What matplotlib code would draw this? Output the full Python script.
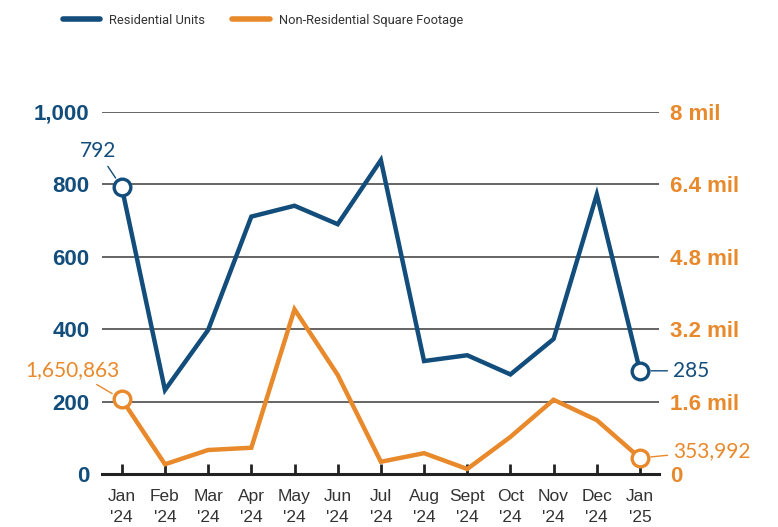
import numpy as np
import matplotlib.pyplot as plt
from matplotlib.lines import Line2D

months = ["Jan\n'24", "Feb\n'24", "Mar\n'24", "Apr\n'24", "May\n'24", "Jun\n'24",
          "Jul\n'24", "Aug\n'24", "Sept\n'24", "Oct\n'24", "Nov\n'24", "Dec\n'24", "Jan\n'25"]
residential = [792, 232, 398, 711, 741, 690, 867, 312, 328, 275, 373, 772, 285]
nonres_sqft = [1650863, 215000, 530000, 580000, 3640000, 2190000, 270000,
               460000, 110000, 820000, 1640000, 1190000, 353992]
left_ticks = [0, 200, 400, 600, 800, 1000]
left_labels = ["0", "200", "400", "600", "800", "1,000"]
right_ticks = [0, 1.6e6, 3.2e6, 4.8e6, 6.4e6, 8e6]
right_labels = ["0", "1.6 mil", "3.2 mil", "4.8 mil", "6.4 mil", "8 mil"]

blue = "#124d7b"
orange = "#e8892b"
sans = ["Liberation Sans", "DejaVu Sans"]
narrow = ["Roboto", "Liberation Sans", "DejaVu Sans"]
light = ["Lato", "DejaVu Sans"]

x = np.arange(len(months))

fig = plt.figure(figsize=(7.78, 5.27), dpi=100)
ax = fig.add_axes([0.131, 0.1006, 0.716, 0.6869])
ax2 = ax.twinx()

for y in left_ticks[1:]:
    ax.axhline(y, color="#3a3a3a", lw=1.1, zorder=1)

ax.plot(x, residential, color=blue, lw=3.2, solid_joinstyle="miter", zorder=3)
ax2.plot(x, nonres_sqft, color=orange, lw=3.2, solid_joinstyle="miter", zorder=3)

# end markers
ax.plot([x[0], x[-1]], [residential[0], residential[-1]], "o", ms=12, mfc="white",
        mec=blue, mew=2.4, zorder=4)
ax2.plot([x[0], x[-1]], [nonres_sqft[0], nonres_sqft[-1]], "o", ms=12, mfc="white",
         mec=orange, mew=2.4, zorder=4)

ax.set_xlim(-0.46, 12.44)
ax.set_ylim(0, 1000)
ax2.set_ylim(0, 8e6)

ax.set_yticks(left_ticks)
ax.set_yticklabels(left_labels, family=sans, fontweight="bold", fontsize=16, color=blue)
ax2.set_yticks(right_ticks)
ax2.set_yticklabels(right_labels, family=sans, fontweight="bold", fontsize=16, color=orange)
ax.tick_params(axis="y", length=0, pad=9)
ax2.tick_params(axis="y", length=0, pad=8)

ax.set_xticks(x)
ax.set_xticklabels(months, family=sans, fontsize=12.5, color="#333333", linespacing=1.5)
ax.tick_params(axis="x", direction="in", length=7, width=2, color="#222222", pad=11)

for a in (ax, ax2):
    for s in ["top", "left", "right"]:
        a.spines[s].set_visible(False)
ax2.spines["bottom"].set_visible(False)
ax.spines["bottom"].set_linewidth(2.2)
ax.spines["bottom"].set_color("#222222")

# value labels with short leaders
def tag(a, xy, text, xytext, color, ha):
    a.annotate(text, xy=xy, xytext=xytext, textcoords="offset pixels",
               ha=ha, va="center", fontsize=15, color=color, family=light,
               zorder=5,
               arrowprops=dict(arrowstyle="-", color=color, lw=1, shrinkA=2, shrinkB=8))

tag(ax, (x[0], residential[0]), "792", (-24, 36), blue, "center")
tag(ax, (x[-1], residential[-1]), "285", (33, 0), blue, "left")
tag(ax2, (x[0], nonres_sqft[0]), "1,650,863", (-2, 29), orange, "right")
tag(ax2, (x[-1], nonres_sqft[-1]), "353,992", (33, 7), orange, "left")

handles = [Line2D([], [], color=blue, lw=4, solid_capstyle="round"),
           Line2D([], [], color=orange, lw=4, solid_capstyle="round")]
fig.legend(handles, ["Residential Units", "Non-Residential Square Footage"],
           loc="center", bbox_to_anchor=(0.338, 0.962), ncol=2, frameon=False,
           handlelength=2.9, columnspacing=2.1, handletextpad=0.7,
           prop={"family": narrow, "size": 9.3}, labelcolor="#333333")

fig.savefig("out.png", dpi=100)
